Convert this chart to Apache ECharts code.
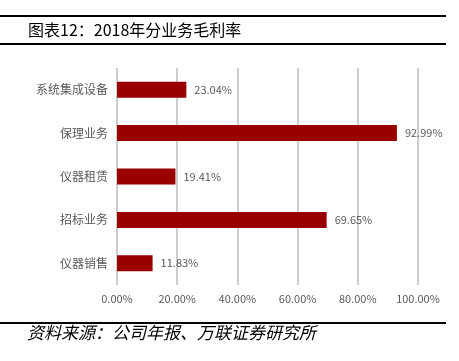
<!DOCTYPE html>
<html><head><meta charset="utf-8">
<script src="https://cdn.jsdelivr.net/npm/echarts@6/dist/echarts.min.js"></script>
<style>html,body{margin:0;padding:0;background:#fff}#c{width:459px;height:361px}</style>
</head><body><div id="c"></div>
<script>
const categories = ['系统集成设备','保理业务','仪器租赁','招标业务','仪器销售'];
const values = [23.04, 92.99, 19.41, 69.65, 11.83];
const titleText = '图表12：2018年分业务毛利率';
const sourceText = '资料来源：公司年报、万联证券研究所';

const chart = echarts.init(document.getElementById('c'));
const font = '"Noto Sans CJK SC", sans-serif';
chart.setOption({
  animation: false,
  grid: {left: 117, right: 41, top: 68, bottom: 76},
  xAxis: {
    type: 'value', min: 0, max: 100, interval: 20,
    axisLine: {show: false},
    axisTick: {show: false},
    splitLine: {lineStyle: {color: '#bdbdbd', width: 1.5}},
    axisLabel: {color: '#595959', fontSize: 11, fontFamily: font, margin: 8,
      formatter: v => v.toFixed(2) + '%'}
  },
  yAxis: {
    type: 'category', data: categories, inverse: true,
    axisLine: {show: false}, axisTick: {show: false},
    axisLabel: {color: '#595959', fontSize: 12, fontFamily: font, margin: 9}
  },
  series: [{
    type: 'bar', data: values, barWidth: 16,
    itemStyle: {color: '#990000'},
    label: {show: true, position: 'right', distance: 8, color: '#595959', fontSize: 11,
      fontFamily: font, formatter: p => p.value.toFixed(2) + '%'}
  }],
  graphic: [
    {type: 'rect', shape: {x: 0, y: 15, width: 446, height: 2}, style: {fill: '#000'}},
    {type: 'rect', shape: {x: 0, y: 43, width: 446, height: 2}, style: {fill: '#000'}},
    {type: 'text', left: 28, top: 22, style: {text: titleText, font: '16px ' + font, fill: '#000'}},
    {type: 'rect', shape: {x: 0, y: 322, width: 446, height: 2}, style: {fill: '#000'}},
    {type: 'text', left: 27, top: 324, style: {text: sourceText, font: 'italic 17px ' + font, fill: '#000'}}
  ]
});
</script></body></html>
